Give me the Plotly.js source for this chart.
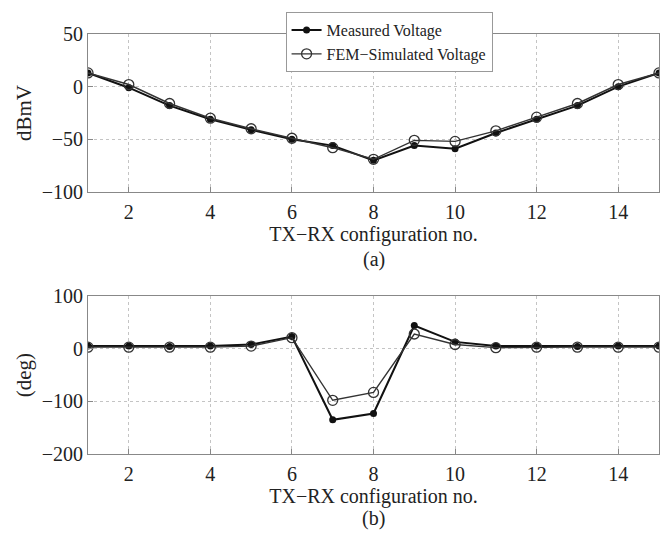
<!DOCTYPE html>
<html><head><meta charset="utf-8">
<script src="https://cdn.plot.ly/plotly-3.0.1.min.js"></script>
<style>body{margin:0;background:#fff}#chart{width:660px;height:533px}</style>
</head><body><div id="chart"></div>
<script>
const config = [1,2,3,4,5,6,7,8,9,10,11,12,13,14,15];
const measuredVoltage = [13,-1,-18,-31,-41,-50,-56,-70,-56,-59,-44,-31,-18,0,13];
const femVoltage      = [13,2,-16,-30,-40,-49,-58,-69,-51,-52,-42,-29,-16,2,13];
const measuredPhase   = [5,5,4,5,8,23,-135,-123,44,13,5,5,4,5,5];
const femPhase        = [3,3,3,3,5,21,-98,-83,28,8,2,3,3,3,3];
const xTicks = [2,4,6,8,10,12,14];

const fam = '"Liberation Serif", "DejaVu Serif", serif';
const txt = '#222';
const mMeas = {symbol:'circle', size:7, color:'#111'};
const mFem = {symbol:'circle-open', size:10, color:'#333', line:{width:1.3}};
const traces = [
  {x:config, y:measuredVoltage, mode:'lines+markers', name:'Measured Voltage', line:{color:'#111', width:2}, marker:mMeas, xaxis:'x', yaxis:'y'},
  {x:config, y:femVoltage, mode:'lines+markers', name:'FEM\u2212Simulated Voltage', line:{color:'#333', width:1.4}, marker:mFem, xaxis:'x', yaxis:'y'},
  {x:config, y:measuredPhase, mode:'lines+markers', showlegend:false, line:{color:'#111', width:2}, marker:mMeas, xaxis:'x2', yaxis:'y2'},
  {x:config, y:femPhase, mode:'lines+markers', showlegend:false, line:{color:'#333', width:1.4}, marker:mFem, xaxis:'x2', yaxis:'y2'}
];
const axBase = {showline:true, mirror:true, linecolor:'#888', linewidth:1, ticks:'inside', ticklen:5, tickcolor:'#888',
  showgrid:true, gridcolor:'#c4c4c4', griddash:'dot', gridwidth:1, zeroline:false, tickfont:{size:20, family:fam, color:txt}};
const xTitle = {text:'TX\u2212RX configuration no.', font:{size:20, family:fam, color:txt}, standoff:0};
const layout = {
  width:660, height:533, paper_bgcolor:'#fff', plot_bgcolor:'#fff', font:{family:fam, color:txt},
  margin:{l:88, r:1, t:34, b:79},
  showlegend:true,
  legend:{x:0.346, y:1.052, xanchor:'left', yanchor:'top', bgcolor:'#fff', bordercolor:'#999', borderwidth:1,
    font:{size:16, family:fam, color:txt}, tracegroupgap:0},
  xaxis:Object.assign({}, axBase, {domain:[0,1], anchor:'y', range:[1,15], tickvals:xTicks, ticklabelstandoff:2, title:xTitle}),
  yaxis:Object.assign({}, axBase, {domain:[0.624,1], anchor:'x', range:[-100,50], tickvals:[-100,-50,0,50],
    ticktext:['\u2212100','\u221250','0','50'],
    title:{text:'dBmV', font:{size:21, family:fam, color:txt}, standoff:4}}),
  xaxis2:Object.assign({}, axBase, {domain:[0,1], anchor:'y2', range:[1,15], tickvals:xTicks, ticklabelstandoff:2, title:xTitle}),
  yaxis2:Object.assign({}, axBase, {domain:[0,0.376], anchor:'x2', range:[-200,100], tickvals:[-200,-100,0,100],
    ticktext:['\u2212200','\u2212100','0','100'],
    title:{text:'(deg)', font:{size:21, family:fam, color:txt}, standoff:4}}),
  annotations:[
    {text:'(a)', xref:'paper', yref:'paper', x:0.5, y:(454-259)/420, yanchor:'middle', showarrow:false, font:{size:20, family:fam, color:txt}},
    {text:'(b)', xref:'paper', yref:'paper', x:0.5, y:(454-518)/420, yanchor:'middle', showarrow:false, font:{size:20, family:fam, color:txt}}
  ]
};
Plotly.newPlot('chart', traces, layout, {displayModeBar:false, staticPlot:true});
</script></body></html>
